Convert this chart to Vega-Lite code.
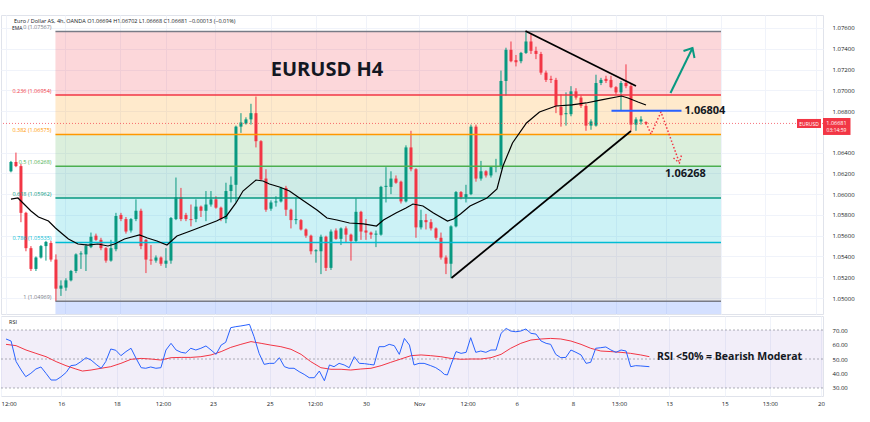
{
"$schema": "https://vega.github.io/schema/vega-lite/v6.json",
"padding": {"left": 0, "top": 14, "right": 0, "bottom": 0},
"background": "white",
"spacing": 0,
"config": {
  "font": "Open Sans",
  "view": {"stroke": "#E0E3EB", "strokeWidth": 1},
  "axis": {"labelFont": "Open Sans", "labelFontSize": 6, "labelColor": "#131722", "domain": false, "ticks": false, "title": null, "gridColor": "#F0F3FA", "gridWidth": 1, "labelOverlap": false}
},
"datasets": {
  "candles": [
    {"i":0,"o":1.0622,"h":1.0632,"l":1.0621,"c":1.0631},
    {"i":1,"o":1.0631,"h":1.0640,"l":1.0626,"c":1.0627},
    {"i":2,"o":1.0627,"h":1.0629,"l":1.0573,"c":1.0582},
    {"i":3,"o":1.0582,"h":1.0583,"l":1.0545,"c":1.0548},
    {"i":4,"o":1.0548,"h":1.0550,"l":1.0526,"c":1.0528},
    {"i":5,"o":1.0528,"h":1.0540,"l":1.0526,"c":1.0539},
    {"i":6,"o":1.0539,"h":1.0551,"l":1.0538,"c":1.0550},
    {"i":7,"o":1.0550,"h":1.0555,"l":1.0536,"c":1.0554},
    {"i":8,"o":1.0553,"h":1.0555,"l":1.0535,"c":1.0537},
    {"i":9,"o":1.0537,"h":1.0542,"l":1.04969,"c":1.0509},
    {"i":10,"o":1.0509,"h":1.0517,"l":1.0502,"c":1.0512},
    {"i":11,"o":1.0510,"h":1.0519,"l":1.0507,"c":1.0517},
    {"i":12,"o":1.0517,"h":1.0527,"l":1.0516,"c":1.0526},
    {"i":13,"o":1.0526,"h":1.0543,"l":1.0524,"c":1.0542},
    {"i":14,"o":1.0542,"h":1.0545,"l":1.0528,"c":1.0543},
    {"i":15,"o":1.0542,"h":1.0552,"l":1.0526,"c":1.0550},
    {"i":16,"o":1.0549,"h":1.0563,"l":1.0548,"c":1.0559},
    {"i":17,"o":1.0560,"h":1.0562,"l":1.0555,"c":1.0556},
    {"i":18,"o":1.0556,"h":1.0558,"l":1.0546,"c":1.0548},
    {"i":19,"o":1.0548,"h":1.0549,"l":1.0534,"c":1.0536},
    {"i":20,"o":1.0536,"h":1.0556,"l":1.0535,"c":1.0548},
    {"i":21,"o":1.0547,"h":1.0582,"l":1.0545,"c":1.0579},
    {"i":22,"o":1.0580,"h":1.0582,"l":1.0574,"c":1.0576},
    {"i":23,"o":1.0576,"h":1.0578,"l":1.0562,"c":1.0564},
    {"i":24,"o":1.0565,"h":1.0577,"l":1.0563,"c":1.0576},
    {"i":25,"o":1.0576,"h":1.0595,"l":1.0574,"c":1.0584},
    {"i":26,"o":1.0584,"h":1.0586,"l":1.0547,"c":1.0550},
    {"i":27,"o":1.0556,"h":1.0557,"l":1.0524,"c":1.0537},
    {"i":28,"o":1.0537,"h":1.0551,"l":1.0532,"c":1.0536},
    {"i":29,"o":1.0536,"h":1.0541,"l":1.0534,"c":1.0539},
    {"i":30,"o":1.0539,"h":1.0540,"l":1.0531,"c":1.0533},
    {"i":31,"o":1.0533,"h":1.0548,"l":1.0529,"c":1.0536},
    {"i":32,"o":1.0536,"h":1.0578,"l":1.0533,"c":1.0577},
    {"i":33,"o":1.0576,"h":1.0616,"l":1.0575,"c":1.0597},
    {"i":34,"o":1.0597,"h":1.0606,"l":1.0574,"c":1.0576},
    {"i":35,"o":1.0580,"h":1.0582,"l":1.0574,"c":1.0576},
    {"i":36,"o":1.0576,"h":1.0590,"l":1.0569,"c":1.0575},
    {"i":37,"o":1.0576,"h":1.0595,"l":1.0573,"c":1.0588},
    {"i":38,"o":1.0588,"h":1.0589,"l":1.0578,"c":1.0584},
    {"i":39,"o":1.0584,"h":1.0603,"l":1.0574,"c":1.0590},
    {"i":40,"o":1.0590,"h":1.0603,"l":1.0588,"c":1.0595},
    {"i":41,"o":1.0595,"h":1.0598,"l":1.0586,"c":1.0587},
    {"i":42,"o":1.0587,"h":1.0588,"l":1.0574,"c":1.0576},
    {"i":43,"o":1.0576,"h":1.0611,"l":1.0572,"c":1.0603},
    {"i":44,"o":1.0603,"h":1.0617,"l":1.0592,"c":1.0609},
    {"i":45,"o":1.0609,"h":1.0666,"l":1.0592,"c":1.0665},
    {"i":46,"o":1.0665,"h":1.0678,"l":1.0659,"c":1.0669},
    {"i":47,"o":1.0668,"h":1.0674,"l":1.0667,"c":1.0672},
    {"i":48,"o":1.0672,"h":1.0687,"l":1.0667,"c":1.0678},
    {"i":49,"o":1.0678,"h":1.0694,"l":1.0645,"c":1.0651},
    {"i":50,"o":1.0651,"h":1.0652,"l":1.0613,"c":1.0614},
    {"i":51,"o":1.0615,"h":1.0624,"l":1.0583,"c":1.0585},
    {"i":52,"o":1.0586,"h":1.0594,"l":1.0584,"c":1.0592},
    {"i":53,"o":1.0592,"h":1.0598,"l":1.0588,"c":1.0593},
    {"i":54,"o":1.0593,"h":1.0607,"l":1.0592,"c":1.0606},
    {"i":55,"o":1.0606,"h":1.0608,"l":1.0579,"c":1.0585},
    {"i":56,"o":1.0585,"h":1.0586,"l":1.0567,"c":1.0575},
    {"i":57,"o":1.0575,"h":1.0597,"l":1.0571,"c":1.0576},
    {"i":58,"o":1.0575,"h":1.0576,"l":1.0565,"c":1.0566},
    {"i":59,"o":1.0566,"h":1.0567,"l":1.0558,"c":1.0560},
    {"i":60,"o":1.0560,"h":1.0561,"l":1.0542,"c":1.0545},
    {"i":61,"o":1.0545,"h":1.0547,"l":1.0534,"c":1.0546},
    {"i":62,"o":1.0545,"h":1.0561,"l":1.0523,"c":1.0559},
    {"i":63,"o":1.0559,"h":1.0560,"l":1.0526,"c":1.0529},
    {"i":64,"o":1.0529,"h":1.0566,"l":1.0527,"c":1.0564},
    {"i":65,"o":1.0565,"h":1.0567,"l":1.0556,"c":1.0557},
    {"i":66,"o":1.0557,"h":1.0568,"l":1.0551,"c":1.0567},
    {"i":67,"o":1.0567,"h":1.0569,"l":1.0553,"c":1.0561},
    {"i":68,"o":1.0561,"h":1.0562,"l":1.0536,"c":1.0555},
    {"i":69,"o":1.0555,"h":1.0596,"l":1.0553,"c":1.0583},
    {"i":70,"o":1.0583,"h":1.0584,"l":1.0556,"c":1.0564},
    {"i":71,"o":1.0565,"h":1.0576,"l":1.0556,"c":1.0563},
    {"i":72,"o":1.0563,"h":1.0564,"l":1.0557,"c":1.0561},
    {"i":73,"o":1.0561,"h":1.0565,"l":1.0549,"c":1.0562},
    {"i":74,"o":1.0561,"h":1.0608,"l":1.0560,"c":1.0607},
    {"i":75,"o":1.0607,"h":1.0626,"l":1.0592,"c":1.0608},
    {"i":76,"o":1.0607,"h":1.0622,"l":1.0600,"c":1.0615},
    {"i":77,"o":1.0615,"h":1.0618,"l":1.0610,"c":1.0611},
    {"i":78,"o":1.0612,"h":1.0613,"l":1.0591,"c":1.0593},
    {"i":79,"o":1.0593,"h":1.0647,"l":1.0592,"c":1.0645},
    {"i":80,"o":1.0645,"h":1.0661,"l":1.0622,"c":1.0624},
    {"i":81,"o":1.0624,"h":1.0625,"l":1.0558,"c":1.0568},
    {"i":82,"o":1.0568,"h":1.0585,"l":1.0566,"c":1.0575},
    {"i":83,"o":1.0575,"h":1.0581,"l":1.0566,"c":1.0573},
    {"i":84,"o":1.0573,"h":1.0576,"l":1.0565,"c":1.0567},
    {"i":85,"o":1.0567,"h":1.0568,"l":1.0556,"c":1.0558},
    {"i":86,"o":1.0558,"h":1.0563,"l":1.0537,"c":1.0539},
    {"i":87,"o":1.0539,"h":1.0541,"l":1.0523,"c":1.0533},
    {"i":88,"o":1.0533,"h":1.0570,"l":1.0519,"c":1.0569},
    {"i":89,"o":1.0569,"h":1.0603,"l":1.0568,"c":1.0602},
    {"i":90,"o":1.0602,"h":1.0603,"l":1.0595,"c":1.0597},
    {"i":91,"o":1.0597,"h":1.0609,"l":1.0592,"c":1.0600},
    {"i":92,"o":1.0600,"h":1.0667,"l":1.0599,"c":1.0665},
    {"i":93,"o":1.0665,"h":1.0667,"l":1.0612,"c":1.0615},
    {"i":94,"o":1.0615,"h":1.0632,"l":1.0613,"c":1.0622},
    {"i":95,"o":1.0622,"h":1.0623,"l":1.0616,"c":1.0618},
    {"i":96,"o":1.0618,"h":1.0627,"l":1.0616,"c":1.0626},
    {"i":97,"o":1.0626,"h":1.0634,"l":1.0621,"c":1.0627},
    {"i":98,"o":1.0627,"h":1.0719,"l":1.0624,"c":1.0709},
    {"i":99,"o":1.0709,"h":1.0741,"l":1.0695,"c":1.0739},
    {"i":100,"o":1.0739,"h":1.0747,"l":1.0727,"c":1.0728},
    {"i":101,"o":1.0729,"h":1.0734,"l":1.0723,"c":1.0727},
    {"i":102,"o":1.0728,"h":1.0737,"l":1.0726,"c":1.0736},
    {"i":103,"o":1.0736,"h":1.07567,"l":1.0735,"c":1.0747},
    {"i":104,"o":1.0747,"h":1.0754,"l":1.0735,"c":1.0738},
    {"i":105,"o":1.0738,"h":1.0742,"l":1.0730,"c":1.0735},
    {"i":106,"o":1.0735,"h":1.0737,"l":1.0715,"c":1.0717},
    {"i":107,"o":1.0717,"h":1.0719,"l":1.0708,"c":1.0710},
    {"i":108,"o":1.0711,"h":1.0714,"l":1.0707,"c":1.0710},
    {"i":109,"o":1.0710,"h":1.0712,"l":1.0678,"c":1.0685},
    {"i":110,"o":1.0684,"h":1.0696,"l":1.0665,"c":1.0676},
    {"i":111,"o":1.0677,"h":1.0698,"l":1.0666,"c":1.0678},
    {"i":112,"o":1.0677,"h":1.0704,"l":1.0675,"c":1.0699},
    {"i":113,"o":1.0699,"h":1.0702,"l":1.0691,"c":1.0693},
    {"i":114,"o":1.0693,"h":1.0695,"l":1.0683,"c":1.0685},
    {"i":115,"o":1.0685,"h":1.0687,"l":1.0661,"c":1.0666},
    {"i":116,"o":1.0666,"h":1.0672,"l":1.0662,"c":1.0670},
    {"i":117,"o":1.0666,"h":1.0715,"l":1.0665,"c":1.0707},
    {"i":118,"o":1.0707,"h":1.0712,"l":1.0705,"c":1.0710},
    {"i":119,"o":1.0711,"h":1.0714,"l":1.0707,"c":1.0709},
    {"i":120,"o":1.0710,"h":1.0714,"l":1.0702,"c":1.0703},
    {"i":121,"o":1.0703,"h":1.0704,"l":1.0696,"c":1.0698},
    {"i":122,"o":1.0698,"h":1.0709,"l":1.0680,"c":1.0707},
    {"i":123,"o":1.0707,"h":1.0725,"l":1.0702,"c":1.0704},
    {"i":124,"o":1.0704,"h":1.0706,"l":1.0661,"c":1.0667},
    {"i":125,"o":1.0667,"h":1.0674,"l":1.0661,"c":1.0672},
    {"i":126,"o":1.0670,"h":1.0675,"l":1.0667,"c":1.0672},
    {"i":127,"o":1.06694,"h":1.06702,"l":1.06668,"c":1.06681}
  ],
  "ema": [
    {"i":0,"p":1.05953},{"i":1.4,"p":1.05963},{"i":2.4,"p":1.05915},{"i":4.0,"p":1.05838},{"i":5.5,"p":1.0578},{"i":7.5,"p":1.05741},{"i":8.9,"p":1.05674},{"i":10.3,"p":1.05616},{"i":11.5,"p":1.05568},{"i":13.4,"p":1.0552},{"i":15.4,"p":1.0551},{"i":17.4,"p":1.0552},{"i":19.4,"p":1.05501},{"i":20.7,"p":1.0552},{"i":22.7,"p":1.05568},{"i":25.7,"p":1.05607},{"i":27.3,"p":1.05578},{"i":29.2,"p":1.05549},{"i":31.2,"p":1.0551},{"i":33.2,"p":1.05597},{"i":35.9,"p":1.05645},{"i":38.5,"p":1.05693},{"i":41.1,"p":1.05741},{"i":43.1,"p":1.0579},{"i":45.0,"p":1.05915},{"i":46.4,"p":1.0603},{"i":49.0,"p":1.06136},{"i":50.4,"p":1.06127},{"i":51.7,"p":1.06098},{"i":53.7,"p":1.06069},{"i":55.7,"p":1.0603},{"i":57.7,"p":1.05963},{"i":61.2,"p":1.05847},{"i":63.2,"p":1.0577},{"i":65.2,"p":1.05751},{"i":67.7,"p":1.05722},{"i":70.5,"p":1.05713},{"i":73.1,"p":1.05693},{"i":74.5,"p":1.05751},{"i":77.0,"p":1.05818},{"i":79.0,"p":1.05867},{"i":80.4,"p":1.05905},{"i":82.4,"p":1.05886},{"i":84.5,"p":1.05818},{"i":87.3,"p":1.05741},{"i":88.5,"p":1.05761},{"i":89.9,"p":1.05809},{"i":91.8,"p":1.05886},{"i":95.2,"p":1.05963},{"i":97.2,"p":1.0605},{"i":98.4,"p":1.06271},{"i":100.3,"p":1.06493},{"i":103.1,"p":1.06685},{"i":105.7,"p":1.06791},{"i":109.0,"p":1.06849},{"i":112.2,"p":1.06859},{"i":115.0,"p":1.06878},{"i":118.1,"p":1.06907},{"i":122.1,"p":1.06945},{"i":123.4,"p":1.06926},{"i":125.4,"p":1.06887},{"i":127.0,"p":1.06858}
  ],
  "fibz": [
    {"z":"a","lo":1.06954,"hi":1.07567},
    {"z":"b","lo":1.06575,"hi":1.06954},
    {"z":"c","lo":1.06268,"hi":1.06575},
    {"z":"d","lo":1.05962,"hi":1.06268},
    {"z":"e","lo":1.05535,"hi":1.05962},
    {"z":"f","lo":1.04969,"hi":1.05535},
    {"z":"g","lo":1.03865,"hi":1.04969}
  ],
  "fibl": [
    {"lv":"0","p":1.07567,"t":"0 (1.07567)"},
    {"lv":"0.236","p":1.06954,"t":"0.236 (1.06954)"},
    {"lv":"0.382","p":1.06575,"t":"0.382 (1.06575)"},
    {"lv":"0.5","p":1.06268,"t":"0.5 (1.06268)"},
    {"lv":"0.618","p":1.05962,"t":"0.618 (1.05962)"},
    {"lv":"0.786","p":1.05535,"t":"0.786 (1.05535)"},
    {"lv":"1","p":1.04969,"t":"1 (1.04969)"}
  ],
  "draw": [
    {"n":"up","i":88.1,"p":1.05193},{"n":"up","i":124.0,"p":1.06608},
    {"n":"down","i":102.9,"p":1.07571},{"n":"down","i":125.0,"p":1.07041},
    {"n":"zig","i":127.0,"p":1.06685},{"n":"zig","i":128.0,"p":1.06579},{"n":"zig","i":130.0,"p":1.06791},{"n":"zig","i":133.7,"p":1.063},
    {"n":"zighead","i":132.5,"p":1.06348},{"n":"zighead","i":133.7,"p":1.063},{"n":"zighead","i":134.1,"p":1.06377},
    {"n":"arrow","i":131.9,"p":1.06974},{"n":"arrow","i":136.3,"p":1.07407},
    {"n":"arrowhead","i":134.5,"p":1.07378},{"n":"arrowhead","i":136.3,"p":1.07407},{"n":"arrowhead","i":136.7,"p":1.07311}
  ],
  "rsi": [
    {"i":0.0,"v":63.8},{"i":1.0,"v":62.4},{"i":2.0,"v":48.2},{"i":3.0,"v":42.4},{"i":3.9,"v":37.8},{"i":4.9,"v":40.1},{"i":5.9,"v":43.1},{"i":6.9,"v":44.5},{"i":7.9,"v":40.1},{"i":8.9,"v":35.5},{"i":9.9,"v":35.5},{"i":10.9,"v":37.8},{"i":11.9,"v":40.8},{"i":12.8,"v":45.4},{"i":13.8,"v":45.9},{"i":14.8,"v":48.2},{"i":15.8,"v":50.9},{"i":16.8,"v":49.3},{"i":17.8,"v":46.3},{"i":18.8,"v":43.6},{"i":19.7,"v":48.2},{"i":20.7,"v":56.9},{"i":21.7,"v":56.0},{"i":22.7,"v":52.3},{"i":23.7,"v":55.1},{"i":24.7,"v":57.4},{"i":25.7,"v":50.4},{"i":26.7,"v":44.0},{"i":27.6,"v":43.6},{"i":28.6,"v":44.5},{"i":29.6,"v":43.6},{"i":30.6,"v":44.0},{"i":31.6,"v":56.2},{"i":32.6,"v":60.8},{"i":33.6,"v":56.2},{"i":34.6,"v":54.6},{"i":35.5,"v":54.1},{"i":36.5,"v":57.4},{"i":37.5,"v":56.2},{"i":38.5,"v":57.4},{"i":39.5,"v":59.0},{"i":40.5,"v":56.2},{"i":41.5,"v":53.2},{"i":42.5,"v":59.6},{"i":43.4,"v":61.5},{"i":44.4,"v":71.6},{"i":45.4,"v":72.3},{"i":46.4,"v":72.8},{"i":47.4,"v":73.4},{"i":48.1,"v":73.9},{"i":49.0,"v":65.4},{"i":50.0,"v":53.9},{"i":51.0,"v":46.3},{"i":52.0,"v":47.0},{"i":53.0,"v":47.0},{"i":54.0,"v":50.9},{"i":55.0,"v":44.7},{"i":55.9,"v":43.6},{"i":56.9,"v":43.6},{"i":57.9,"v":41.3},{"i":58.9,"v":39.4},{"i":59.9,"v":37.1},{"i":60.9,"v":37.1},{"i":61.9,"v":41.7},{"i":62.9,"v":35.0},{"i":63.9,"v":45.9},{"i":64.8,"v":44.7},{"i":65.8,"v":47.0},{"i":66.8,"v":45.9},{"i":67.8,"v":44.0},{"i":68.8,"v":51.6},{"i":69.8,"v":47.0},{"i":70.8,"v":46.8},{"i":71.8,"v":46.3},{"i":72.7,"v":45.9},{"i":73.7,"v":58.5},{"i":74.7,"v":58.5},{"i":75.7,"v":60.1},{"i":76.7,"v":59.2},{"i":77.7,"v":53.2},{"i":78.7,"v":64.2},{"i":79.7,"v":59.6},{"i":80.6,"v":45.9},{"i":81.6,"v":47.0},{"i":82.6,"v":47.0},{"i":83.9,"v":45.4},{"i":84.9,"v":44.0},{"i":85.9,"v":41.7},{"i":86.6,"v":39.4},{"i":87.2,"v":39.0},{"i":87.9,"v":45.9},{"i":88.9,"v":55.1},{"i":89.9,"v":53.9},{"i":90.9,"v":54.6},{"i":91.8,"v":64.7},{"i":92.8,"v":54.6},{"i":93.8,"v":55.5},{"i":94.8,"v":54.6},{"i":95.8,"v":56.2},{"i":96.8,"v":56.2},{"i":97.8,"v":67.7},{"i":98.8,"v":71.1},{"i":99.7,"v":69.3},{"i":100.7,"v":68.8},{"i":101.7,"v":69.3},{"i":102.7,"v":70.7},{"i":103.7,"v":67.7},{"i":104.7,"v":67.2},{"i":105.7,"v":62.4},{"i":106.7,"v":60.8},{"i":107.6,"v":60.1},{"i":108.6,"v":53.2},{"i":109.6,"v":50.9},{"i":110.6,"v":51.1},{"i":111.6,"v":56.2},{"i":112.6,"v":54.6},{"i":113.6,"v":52.8},{"i":114.6,"v":47.0},{"i":115.5,"v":47.7},{"i":116.5,"v":57.4},{"i":117.5,"v":57.8},{"i":118.5,"v":58.3},{"i":119.5,"v":56.2},{"i":120.5,"v":54.6},{"i":121.5,"v":56.2},{"i":122.5,"v":55.5},{"i":123.4,"v":44.7},{"i":124.4,"v":45.4},{"i":125.4,"v":45.2},{"i":127.1,"v":44.7}
  ],
  "rsima": [
    {"i":0.0,"v":60.1},{"i":2.0,"v":59.2},{"i":3.95,"v":56.2},{"i":5.9,"v":53.9},{"i":7.9,"v":51.6},{"i":9.9,"v":48.2},{"i":11.85,"v":45.4},{"i":13.8,"v":43.1},{"i":15.1,"v":41.7},{"i":16.8,"v":42.4},{"i":18.8,"v":43.6},{"i":20.7,"v":44.7},{"i":22.7,"v":47.0},{"i":24.7,"v":49.8},{"i":26.7,"v":50.4},{"i":28.6,"v":50.0},{"i":30.6,"v":49.3},{"i":32.6,"v":50.9},{"i":34.6,"v":51.1},{"i":36.5,"v":51.1},{"i":38.5,"v":51.6},{"i":40.5,"v":52.8},{"i":42.5,"v":55.1},{"i":44.4,"v":58.0},{"i":46.4,"v":60.1},{"i":48.4,"v":62.0},{"i":50.4,"v":60.8},{"i":52.3,"v":59.6},{"i":54.3,"v":58.5},{"i":56.3,"v":56.7},{"i":58.3,"v":53.2},{"i":60.2,"v":48.2},{"i":62.2,"v":44.0},{"i":64.2,"v":42.9},{"i":66.2,"v":42.9},{"i":68.1,"v":42.4},{"i":70.1,"v":43.1},{"i":72.1,"v":43.6},{"i":74.1,"v":45.4},{"i":76.0,"v":47.7},{"i":78.0,"v":50.0},{"i":80.0,"v":52.3},{"i":82.0,"v":52.8},{"i":83.9,"v":52.3},{"i":85.9,"v":51.6},{"i":87.9,"v":50.4},{"i":89.9,"v":49.8},{"i":91.8,"v":50.0},{"i":93.8,"v":50.0},{"i":95.8,"v":50.9},{"i":97.8,"v":53.2},{"i":99.7,"v":57.4},{"i":101.7,"v":60.8},{"i":103.7,"v":63.1},{"i":105.7,"v":63.8},{"i":107.6,"v":64.2},{"i":109.6,"v":63.8},{"i":111.6,"v":62.4},{"i":113.6,"v":60.1},{"i":115.5,"v":57.4},{"i":117.5,"v":55.5},{"i":119.5,"v":55.1},{"i":121.5,"v":54.6},{"i":123.4,"v":53.9},{"i":125.4,"v":52.8},{"i":127.1,"v":51.6}
  ],
  "rsilev": [{"v":70},{"v":50},{"v":30}]
},
"vconcat": [
  {
    "width": 822,
    "height": 299,
    "layer": [
      {
        "data": {"name": "fibz"},
        "mark": {"type": "rect", "clip": true, "fillOpacity": 0.2},
        "encoding": {
          "x": {"datum": 8.9, "type": "quantitative",
            "scale": {"domain": [-0.99, 161.4], "nice": false, "zero": false},
            "axis": {"values": [-0.99,10.9,21.9,31,40.9,52.1,61,71.1,81.6,91.2,100.9,112,121.1,131,142,150.9,161], "tickCount": 40, "labels": false, "grid": true}},
          "x2": {"datum": 142},
          "y": {"field": "lo", "type": "quantitative",
            "scale": {"domain": [1.04846, 1.07725], "nice": false, "zero": false},
            "axis": {"orient": "right", "values": [1.05,1.052,1.054,1.056,1.058,1.06,1.062,1.064,1.068,1.07,1.072,1.074,1.076], "tickCount": 40, "format": ".5f", "grid": true, "labelPadding": 9}},
          "y2": {"field": "hi"},
          "fill": {"field": "z", "type": "nominal", "legend": null,
            "scale": {"domain": ["a","b","c","d","e","f","g"], "range": ["#F23645","#FF9800","#4CAF50","#089981","#00BCD4","#787B86","#2962FF"]}}
        }
      },
      {
        "data": {"name": "candles"},
        "mark": {"type": "rule", "strokeWidth": 1},
        "encoding": {
          "x": {"field": "i", "type": "quantitative"},
          "y": {"field": "l", "type": "quantitative"},
          "y2": {"field": "h"},
          "color": {"condition": {"test": "datum.c < datum.o", "value": "#F23645"}, "value": "#089981"}
        }
      },
      {
        "data": {"name": "candles"},
        "mark": {"type": "bar", "size": 3},
        "encoding": {
          "x": {"field": "i", "type": "quantitative"},
          "y": {"field": "o", "type": "quantitative"},
          "y2": {"field": "c"},
          "color": {"condition": {"test": "datum.c < datum.o", "value": "#F23645"}, "value": "#089981"}
        }
      },
      {
        "data": {"name": "fibl"},
        "mark": {"type": "rule", "strokeWidth": 1.5},
        "encoding": {
          "x": {"datum": 8.9, "type": "quantitative"},
          "x2": {"datum": 142},
          "y": {"field": "p", "type": "quantitative"},
          "color": {"field": "lv", "type": "nominal", "legend": null,
            "scale": {"domain": ["0","0.236","0.382","0.5","0.618","0.786","1"], "range": ["#787B86","#F23645","#FF9800","#4CAF50","#089981","#00BCD4","#787B86"]}}
        }
      },
      {
        "data": {"name": "fibl"},
        "mark": {"type": "text", "align": "right", "baseline": "bottom", "dy": -1, "fontSize": 5.5},
        "encoding": {
          "x": {"datum": 8.1, "type": "quantitative"},
          "y": {"field": "p", "type": "quantitative"},
          "text": {"field": "t"},
          "color": {"field": "lv", "type": "nominal", "legend": null}
        }
      },
      {
        "data": {"values": [{}]},
        "mark": {"type": "rule", "color": "#F23645", "strokeDash": [1, 2], "strokeWidth": 1, "opacity": 0.7},
        "encoding": {"y": {"datum": 1.06681, "type": "quantitative"}}
      },
      {
        "data": {"name": "ema"},
        "mark": {"type": "line", "color": "#000000", "strokeWidth": 1.2},
        "encoding": {
          "x": {"field": "i", "type": "quantitative"},
          "y": {"field": "p", "type": "quantitative"}
        }
      },
      {
        "data": {"name": "draw"},
        "transform": [{"filter": "datum.n == 'up' || datum.n == 'down'"}],
        "mark": {"type": "line", "color": "#000000", "strokeWidth": 1.8},
        "encoding": {
          "x": {"field": "i", "type": "quantitative"},
          "y": {"field": "p", "type": "quantitative"},
          "detail": {"field": "n"}
        }
      },
      {
        "data": {"name": "draw"},
        "transform": [{"filter": "datum.n == 'zig' || datum.n == 'zighead'"}],
        "mark": {"type": "line", "color": "#F23645", "strokeWidth": 1.5, "strokeDash": [1.5, 2]},
        "encoding": {
          "x": {"field": "i", "type": "quantitative"},
          "y": {"field": "p", "type": "quantitative"},
          "detail": {"field": "n"}
        }
      },
      {
        "data": {"name": "draw"},
        "transform": [{"filter": "datum.n == 'arrow' || datum.n == 'arrowhead'"}],
        "mark": {"type": "line", "color": "#089981", "strokeWidth": 2},
        "encoding": {
          "x": {"field": "i", "type": "quantitative"},
          "y": {"field": "p", "type": "quantitative"},
          "detail": {"field": "n"}
        }
      },
      {
        "data": {"values": [{}]},
        "mark": {"type": "rule", "color": "#2962FF", "strokeWidth": 2},
        "encoding": {
          "x": {"datum": 120.1, "type": "quantitative"},
          "x2": {"datum": 134.1},
          "y": {"datum": 1.06804, "type": "quantitative"}
        }
      },
      {
        "data": {"values": [{}]},
        "mark": {"type": "text", "align": "left", "baseline": "middle", "fontSize": 11, "fontWeight": "bold", "color": "#131722"},
        "encoding": {
          "x": {"datum": 134.7, "type": "quantitative"},
          "y": {"datum": 1.06804, "type": "quantitative"},
          "text": {"value": "1.06804"}
        }
      },
      {
        "data": {"values": [{}]},
        "mark": {"type": "text", "align": "left", "baseline": "middle", "fontSize": 11, "fontWeight": "bold", "color": "#131722"},
        "encoding": {
          "x": {"datum": 130.8, "type": "quantitative"},
          "y": {"datum": 1.06194, "type": "quantitative"},
          "text": {"value": "1.06268"}
        }
      },
      {
        "data": {"values": [{}]},
        "mark": {"type": "text", "align": "center", "baseline": "middle", "fontSize": 20, "fontWeight": "bold", "color": "#131722"},
        "encoding": {
          "x": {"datum": 63.2, "type": "quantitative"},
          "y": {"datum": 1.07196, "type": "quantitative"},
          "text": {"value": "EURUSD H4"}
        }
      },
      {
        "data": {"values": [{}]},
        "mark": {"type": "text", "align": "left", "baseline": "middle", "fontSize": 5.5, "color": "#131722"},
        "encoding": {
          "x": {"datum": 0.6, "type": "quantitative"},
          "y": {"datum": 1.07672, "type": "quantitative"},
          "text": {"value": "Euro / Dollar AS, 4h, OANDA  O1.06694  H1.06702  L1.06668  C1.06681  −0.00013 (−0.01%)"}
        }
      },
      {
        "data": {"values": [{}]},
        "mark": {"type": "text", "align": "left", "baseline": "middle", "fontSize": 5, "color": "#131722"},
        "encoding": {
          "x": {"datum": 0.2, "type": "quantitative"},
          "y": {"datum": 1.07598, "type": "quantitative"},
          "text": {"value": "EMA"}
        }
      },
      {
        "data": {"values": [{}]},
        "mark": {"type": "rect", "color": "#F23645"},
        "encoding": {
          "x": {"datum": 157.2, "type": "quantitative"},
          "x2": {"datum": 162.0},
          "y": {"datum": 1.06637, "type": "quantitative"},
          "y2": {"datum": 1.06724}
        }
      },
      {
        "data": {"values": [{}]},
        "mark": {"type": "text", "align": "center", "baseline": "middle", "fontSize": 5, "color": "white"},
        "encoding": {
          "x": {"datum": 159.6, "type": "quantitative"},
          "y": {"datum": 1.0668, "type": "quantitative"},
          "text": {"value": "EURUSD"}
        }
      },
      {
        "data": {"values": [{}]},
        "mark": {"type": "rect", "color": "#F23645"},
        "encoding": {
          "x": {"datum": 162.4, "type": "quantitative"},
          "x2": {"datum": 167.9},
          "y": {"datum": 1.0657, "type": "quantitative"},
          "y2": {"datum": 1.06733}
        }
      },
      {
        "data": {"values": [{}]},
        "mark": {"type": "text", "align": "center", "baseline": "middle", "fontSize": 5.5, "color": "white"},
        "encoding": {
          "x": {"datum": 165.1, "type": "quantitative"},
          "y": {"datum": 1.06688, "type": "quantitative"},
          "text": {"value": "1.06681"}
        }
      },
      {
        "data": {"values": [{}]},
        "mark": {"type": "text", "align": "center", "baseline": "middle", "fontSize": 5, "color": "white"},
        "encoding": {
          "x": {"datum": 165.1, "type": "quantitative"},
          "y": {"datum": 1.06615, "type": "quantitative"},
          "text": {"value": "03:14:59"}
        }
      }
    ]
  },
  {
    "width": 822,
    "height": 80,
    "layer": [
      {
        "data": {"values": [{}]},
        "mark": {"type": "rect", "color": "#7E57C2", "opacity": 0.1},
        "encoding": {
          "x": {"datum": -0.99, "type": "quantitative",
            "scale": {"domain": [-0.99, 161.4], "nice": false, "zero": false},
            "axis": {"values": [-0.99,10.9,21.9,31,40.9,52.1,61,71.1,81.6,91.2,100.9,112,121.1,131,142,150.9,161], "tickCount": 40, "grid": true, "labelFlush": true, "labelPadding": 4,
              "labelExpr": "['12:00','16','18','12:00','23','25','12:00','30','Nov','12:00','6','8','13:00','13','15','13:00','20'][indexof([-0.99,10.9,21.9,31,40.9,52.1,61,71.1,81.6,91.2,100.9,112,121.1,131,142,150.9,161], datum.value)]"}},
          "x2": {"datum": 161.4},
          "y": {"datum": 30, "type": "quantitative",
            "scale": {"domain": [24.48, 79.66], "nice": false, "zero": false},
            "axis": {"orient": "right", "values": [30, 40, 50, 60, 70], "tickCount": 20, "format": ".2f", "grid": false, "labelPadding": 9}},
          "y2": {"datum": 70}
        }
      },
      {
        "data": {"name": "rsilev"},
        "mark": {"type": "rule", "color": "#787B86", "strokeDash": [2, 2], "strokeWidth": 1, "opacity": 0.6},
        "encoding": {"y": {"field": "v", "type": "quantitative"}}
      },
      {
        "data": {"name": "rsima"},
        "mark": {"type": "line", "color": "#F23645", "strokeWidth": 1},
        "encoding": {
          "x": {"field": "i", "type": "quantitative"},
          "y": {"field": "v", "type": "quantitative"}
        }
      },
      {
        "data": {"name": "rsi"},
        "mark": {"type": "line", "color": "#2962FF", "strokeWidth": 1},
        "encoding": {
          "x": {"field": "i", "type": "quantitative"},
          "y": {"field": "v", "type": "quantitative"}
        }
      },
      {
        "data": {"values": [{}]},
        "mark": {"type": "text", "align": "left", "baseline": "middle", "fontSize": 5.5, "color": "#131722"},
        "encoding": {
          "x": {"datum": 0.6, "type": "quantitative"},
          "y": {"datum": 75.5, "type": "quantitative"},
          "text": {"value": "RSI"}
        }
      },
      {
        "data": {"values": [{}]},
        "mark": {"type": "text", "align": "left", "baseline": "middle", "fontSize": 10.5, "fontWeight": "bold", "color": "#131722"},
        "encoding": {
          "x": {"datum": 128.6, "type": "quantitative"},
          "y": {"datum": 51.4, "type": "quantitative"},
          "text": {"value": "RSI <50% = Bearish Moderat"}
        }
      }
    ]
  }
]
}
